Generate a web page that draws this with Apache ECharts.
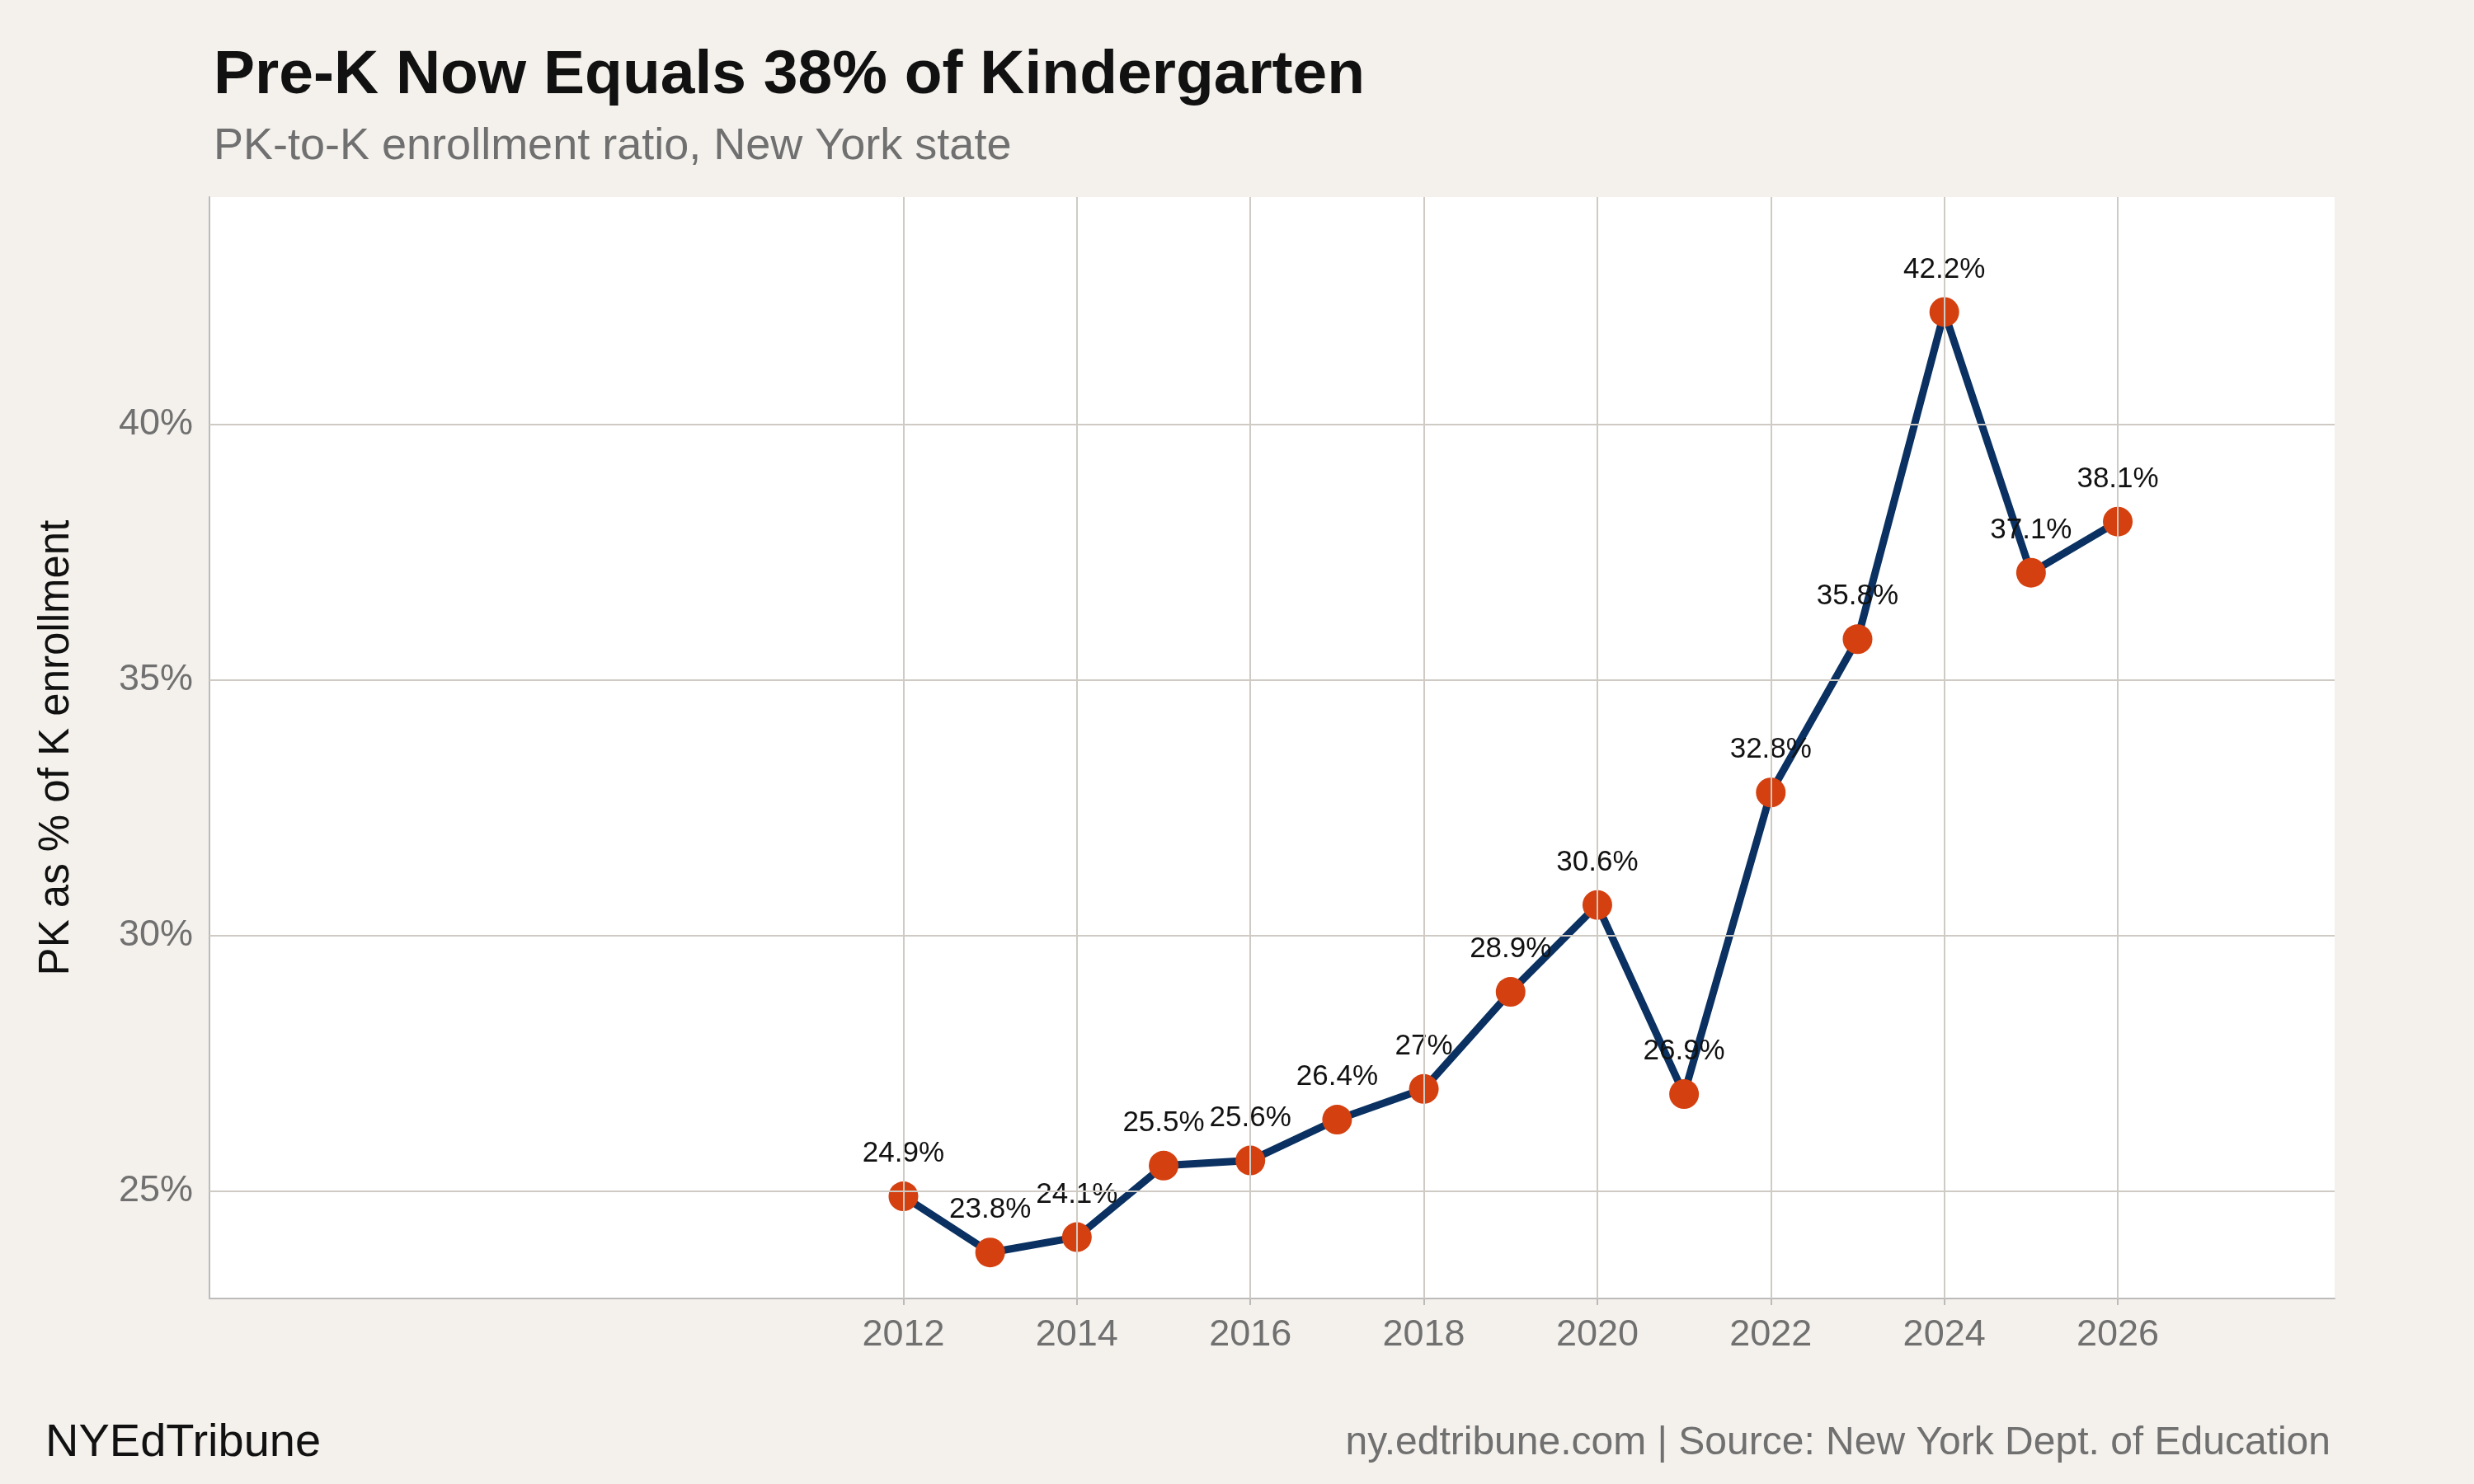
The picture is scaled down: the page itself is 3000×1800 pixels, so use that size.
<!DOCTYPE html>
<html><head><meta charset="utf-8">
<script src="https://cdn.jsdelivr.net/npm/echarts@6/dist/echarts.min.js"></script>
<style>html,body{margin:0;padding:0;background:#f4f1ec}#c{width:3000px;height:1800px}</style>
</head><body><div id="c"></div>
<script>
const years = [2012,2013,2014,2015,2016,2017,2018,2019,2020,2021,2022,2023,2024,2025,2026];
const ratios = [24.9,23.8,24.1,25.5,25.6,26.4,27.0,28.9,30.6,26.9,32.8,35.8,42.2,37.1,38.1];
const xTicks = [2012,2014,2016,2018,2020,2022,2024,2026];
const yTicks = [25,30,35,40];
const font = 'Liberation Sans';
const chart = echarts.init(document.getElementById('c'));
const gridLines = xTicks.map(v=>({xAxis:v})).concat(yTicks.map(v=>({yAxis:v})));
chart.setOption({
  backgroundColor:'#f4f1ec',
  textStyle:{fontFamily:font},
  title:[
    {text:'Pre-K Now Equals 38% of Kindergarten',left:254,top:50,textStyle:{fontSize:75,fontWeight:'bold',color:'#111',fontFamily:font}},
    {text:'PK-to-K enrollment ratio, New York state',left:254,top:146,textStyle:{fontSize:54,fontWeight:'normal',color:'#707070',fontFamily:font}},
    {text:'NYEdTribune',left:50,top:1718,textStyle:{fontSize:56,fontWeight:'normal',color:'#111',fontFamily:font}},
    {text:'ny.edtribune.com | Source: New York Dept. of Education',right:169,top:1722,textStyle:{fontSize:48,fontWeight:'normal',color:'#707070',fontFamily:font}}
  ],
  grid:{left:254,right:169,top:239,bottom:225,show:true,backgroundColor:'#fff',borderWidth:0},
  xAxis:{type:'value',min:2004,max:2028.5,interval:2,
    axisLine:{show:true,lineStyle:{color:'#bbb',width:2}},
    axisTick:{show:true,customValues:xTicks,length:8,lineStyle:{color:'#bbb',width:2}},
    splitLine:{show:false},
    axisLabel:{customValues:xTicks,fontSize:45,color:'#707070',margin:22,fontFamily:font,formatter:v=>String(v)}},
  yAxis:{type:'value',min:22.9,max:44.45,
    name:'PK as % of K enrollment',nameLocation:'middle',nameGap:160,nameRotate:90,
    nameTextStyle:{fontSize:51,color:'#111',fontFamily:font},
    axisLine:{show:true,lineStyle:{color:'#bbb',width:2}},
    axisTick:{show:false},splitLine:{show:false},
    axisLabel:{customValues:yTicks,fontSize:45,color:'#707070',margin:20,fontFamily:font,formatter:v=>v+'%'}},
  series:[
    {type:'line',data:[],z:1,silent:true,
     markLine:{silent:true,symbol:'none',label:{show:false},lineStyle:{color:'#cfcbc4',width:2,type:'solid'},data:gridLines,animation:false}},
    {type:'line',z:3,data:years.map((y,i)=>[y,ratios[i]]),
     lineStyle:{color:'#0a3161',width:9},itemStyle:{color:'#d4400f',borderWidth:0},
     symbol:'circle',symbolSize:36,
     label:{show:true,position:'top',distance:16,fontSize:35,color:'#111',fontFamily:font,formatter:p=>p.value[1]+'%'}}
  ],
  animation:false
});
</script></body></html>
